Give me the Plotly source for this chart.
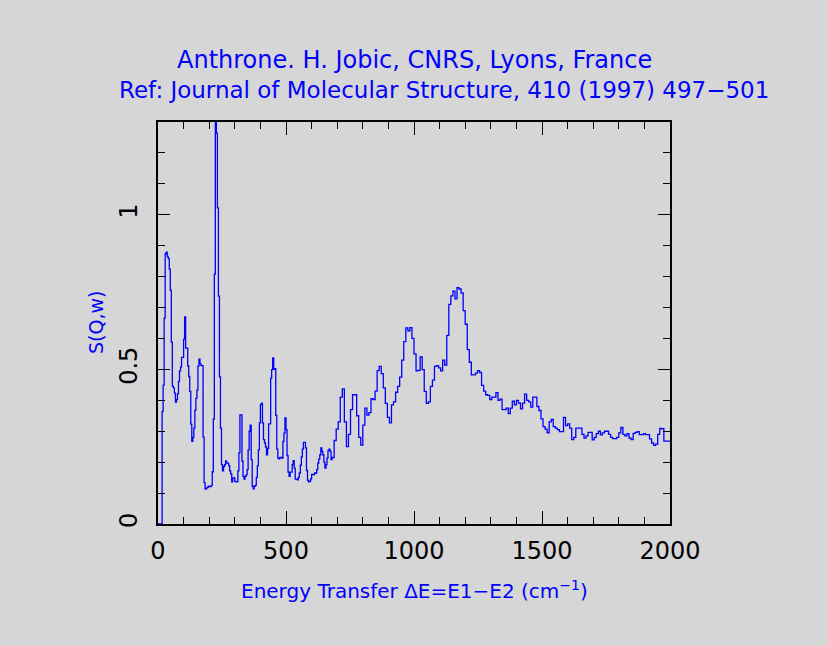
import plotly.graph_objects as go

# energy transfer grid (cm-1): fine part up to 676, coarser after
x_lo = list(range(0, 680, 4))
x_hi = list(range(680, 2008, 8))

s_lo = [
    0.0, 0.0, 0.0, 0.0, 0.364, 0.449, 0.666, 0.874, 0.879, 0.865,
    0.858, 0.824, 0.756, 0.588, 0.446, 0.440, 0.423, 0.394, 0.402, 0.421,
    0.461, 0.495, 0.508, 0.539, 0.539, 0.598, 0.670, 0.569, 0.569, 0.511,
    0.477, 0.429, 0.323, 0.267, 0.280, 0.310, 0.368, 0.406, 0.433, 0.511,
    0.533, 0.518, 0.512, 0.512, 0.281, 0.134, 0.113, 0.116, 0.118, 0.122,
    0.121, 0.121, 0.125, 0.169, 0.339, 0.808, 1.420, 1.264, 1.022, 0.737,
    0.476, 0.310, 0.192, 0.172, 0.186, 0.192, 0.204, 0.197, 0.197, 0.189,
    0.172, 0.162, 0.136, 0.149, 0.149, 0.138, 0.136, 0.136, 0.172, 0.230,
    0.353, 0.353, 0.203, 0.154, 0.145, 0.154, 0.159, 0.176, 0.240, 0.300,
    0.320, 0.208, 0.122, 0.114, 0.122, 0.125, 0.151, 0.188, 0.240, 0.327,
    0.386, 0.391, 0.327, 0.273, 0.262, 0.249, 0.224, 0.244, 0.324, 0.324,
    0.472, 0.499, 0.537, 0.500, 0.502, 0.351, 0.242, 0.213, 0.211, 0.215,
    0.215, 0.213, 0.267, 0.294, 0.343, 0.305, 0.221, 0.168, 0.154, 0.168,
    0.168, 0.192, 0.205, 0.181, 0.145, 0.145, 0.143, 0.151, 0.165, 0.190,
    0.217, 0.242, 0.264, 0.264, 0.246, 0.173, 0.141, 0.136, 0.138, 0.146,
    0.160, 0.160, 0.160, 0.165, 0.165, 0.176, 0.197, 0.210, 0.224, 0.246,
    0.235, 0.224, 0.200, 0.181, 0.192, 0.213, 0.238, 0.242, 0.235, 0.208,
]

s_hi = [
    0.215, 0.270, 0.307, 0.330, 0.410, 0.437, 0.330, 0.250, 0.290, 0.370,
    0.418, 0.418, 0.350, 0.280, 0.255, 0.320, 0.375, 0.352, 0.360, 0.405,
    0.402, 0.430, 0.496, 0.510, 0.486, 0.440, 0.390, 0.345, 0.327, 0.385,
    0.395, 0.426, 0.445, 0.475, 0.530, 0.590, 0.634, 0.625, 0.635, 0.600,
    0.550, 0.495, 0.497, 0.540, 0.499, 0.429, 0.390, 0.395, 0.445, 0.465,
    0.510, 0.512, 0.505, 0.495, 0.530, 0.514, 0.610, 0.710, 0.738, 0.753,
    0.728, 0.764, 0.760, 0.747, 0.690, 0.646, 0.564, 0.523, 0.482, 0.482,
    0.488, 0.496, 0.490, 0.448, 0.430, 0.418, 0.416, 0.402, 0.410, 0.410,
    0.425, 0.400, 0.404, 0.370, 0.370, 0.375, 0.357, 0.375, 0.397, 0.385,
    0.400, 0.391, 0.372, 0.391, 0.420, 0.400, 0.395, 0.378, 0.410, 0.410,
    0.380, 0.367, 0.340, 0.315, 0.307, 0.295, 0.330, 0.338, 0.315, 0.310,
    0.305, 0.299, 0.299, 0.345, 0.318, 0.324, 0.310, 0.273, 0.280, 0.310,
    0.310, 0.310, 0.290, 0.278, 0.285, 0.296, 0.296, 0.272, 0.280, 0.292,
    0.300, 0.288, 0.295, 0.300, 0.300, 0.290, 0.280, 0.276, 0.276, 0.280,
    0.295, 0.312, 0.290, 0.285, 0.292, 0.278, 0.273, 0.293, 0.296, 0.299,
    0.289, 0.289, 0.292, 0.289, 0.289, 0.275, 0.262, 0.254, 0.258, 0.290,
    0.309, 0.308, 0.268, 0.268, 0.268, 0.268,
]

x_cm = x_lo + x_hi
s_qw = s_lo + s_hi

title1 = "Anthrone. H. Jobic, CNRS, Lyons, France"
title2 = "Ref: Journal of Molecular Structure, 410 (1997) 497\u2212501"
xlab = "Energy Transfer \u0394E=E1\u2212E2 (cm<sup>\u22121</sup>)"
ylab = "S(Q,w)"

bg = "#d6d6d6"
blue = "#0000ff"
fnt = "DejaVu Sans"

fig = go.Figure()
fig.add_trace(go.Scatter(
    x=x_cm, y=s_qw, mode="lines", line_shape="hv",
    line=dict(color=blue, width=1.3), showlegend=False,
))

axis_common = dict(
    showgrid=False, zeroline=False, showline=True, linecolor="black", linewidth=1.5,
    mirror="allticks", ticks="inside", tickcolor="black", tickwidth=1.3,
    tickfont=dict(family=fnt, size=24, color="black"),
)

fig.update_xaxes(
    range=[0, 2000], dtick=500, ticklen=13,
    minor=dict(dtick=100, ticks="inside", ticklen=7, tickcolor="black", tickwidth=1.3),
    ticklabelstandoff=4,
    **axis_common,
)
fig.update_yaxes(
    range=[0, 1.3], tickvals=[0, 0.5, 1], ticktext=["0", "0.5", "1"], ticklen=12,
    minor=dict(dtick=0.1, ticks="inside", ticklen=7, tickcolor="black", tickwidth=1.3),
    tickangle=-90, ticklabelstandoff=10,
    **axis_common,
)

fig.update_layout(
    width=828, height=646,
    margin=dict(l=158, r=158, t=122, b=122),
    paper_bgcolor=bg, plot_bgcolor=bg,
    font=dict(family=fnt, color=blue),
    annotations=[
        dict(text=title1, x=0.5, y=1.0 + 62 / 402, xref="paper", yref="paper",
             showarrow=False, font=dict(size=24, color=blue), xanchor="center", yanchor="middle"),
        dict(text=title2, x=0.5 + 30 / 512, y=1.0 + 32 / 402, xref="paper", yref="paper",
             showarrow=False, font=dict(size=23, color=blue), xanchor="center", yanchor="middle"),
        dict(text=xlab, x=0.5, y=-66 / 402, xref="paper", yref="paper",
             showarrow=False, font=dict(size=20, color=blue), xanchor="center", yanchor="middle"),
        dict(text=ylab, x=-62 / 512, y=0.5, xref="paper", yref="paper", textangle=-90,
             showarrow=False, font=dict(size=19, color=blue), xanchor="center", yanchor="middle"),
    ],
)

# page has a default body margin; drop it so the figure fills the window
fig.write_html("out.html", config={"displayModeBar": False},
               post_script="document.body.style.margin='0';document.body.style.background='#d6d6d6';")
